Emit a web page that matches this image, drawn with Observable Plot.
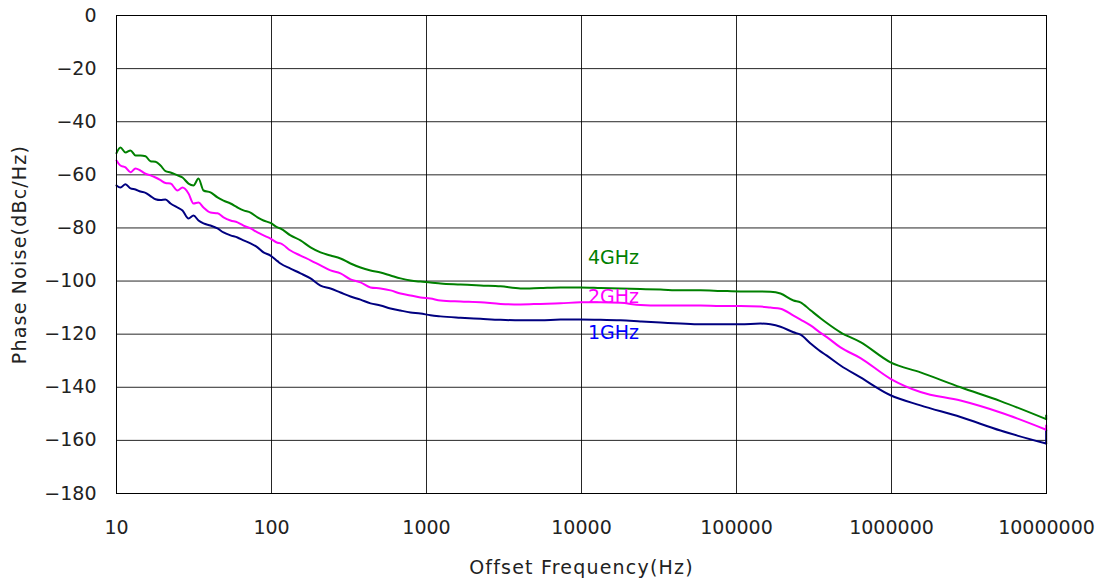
<!DOCTYPE html>
<html><head><meta charset="utf-8">
<script src="https://cdn.jsdelivr.net/npm/d3@7"></script>
<script src="https://cdn.jsdelivr.net/npm/@observablehq/plot@0.6"></script>
<style>
body{margin:0;background:#fff} svg{display:block}
g[aria-label="x-axis label"] text, g[aria-label="y-axis label"] text{letter-spacing:1.2px}
</style>
</head><body><div id="chart"></div>
<script>
const xTicks = [10, 100, 1000, 10000, 100000, 1000000, 10000000];
const yTicks = [0, -20, -40, -60, -80, -100, -120, -140, -160, -180];
const seriesNames = ["1GHz", "2GHz", "4GHz"];
const lineColors = ["#000080", "#ff00ff", "#008000"];
const labelColors = ["#0000ff", "#ff00ff", "#008000"];
const labelFreq = [11000, 11000, 11000];
const labelDb = [-119.7, -105.8, -91.1];

const freqHz = [10, 10.6, 11.43, 12.31, 13.26, 14.28, 15.39, 16.57, 17.85, 19.23,
  20.71, 22.31, 24.75, 26.66, 29.14, 31.39, 33.81, 36.42, 40.42, 44.84,
  49.02, 54.39, 60.34, 65.99, 73.21, 81.21, 88.8, 98.5, 109.3, 114.3,
  132.6, 153.8, 178.5, 207.1, 240.3, 278.7, 323.4, 375.2, 435.3, 505,
  585.9, 679.8, 788.7, 915, 1061, 1231, 1657, 2231, 3002, 4042,
  5439, 7321, 9853, 13264, 17852, 24030, 32340, 43530, 58590, 78870,
  106100, 142800, 165700, 192300, 233200, 258900, 300300, 348400, 380800, 468800,
  631000, 985300, 1538000, 2788000, 5049000, 9950000, 9950000];

const noise4GHz = [-51.8, -49.7, -51.6, -50.8, -52.7, -52.7, -53.0, -54.9, -55.1, -56.5,
  -58.6, -59.1, -60.2, -61.0, -63.3, -64.0, -61.4, -65.9, -66.6, -68.5,
  -69.7, -70.8, -72.3, -73.4, -74.2, -76.0, -77.2, -78.1, -79.8, -80.2,
  -82.8, -84.7, -87.3, -89.2, -90.4, -91.5, -93.4, -94.9, -96.0, -96.8,
  -97.9, -99.0, -99.8, -100.2, -100.5, -100.9, -101.3, -101.7, -102.0, -102.8,
  -102.6, -102.4, -102.4, -102.6, -102.8, -103.0, -103.2, -103.5, -103.5, -103.7,
  -103.9, -103.9, -104.0, -104.7, -107.3, -108.0, -111.0, -114.0, -115.7, -119.3,
  -123.0, -130.6, -134.4, -140.0, -145.2, -152.0, -150.6];

const noise2GHz = [-54.6, -56.5, -57.2, -59.0, -57.6, -58.4, -59.6, -60.2, -61.0, -62.0,
  -63.1, -63.3, -65.9, -64.8, -67.0, -70.8, -70.4, -72.3, -74.2, -74.5,
  -76.0, -77.2, -77.9, -79.1, -80.2, -81.7, -82.8, -84.0, -85.6, -85.8,
  -88.5, -90.4, -92.2, -94.1, -96.0, -97.1, -99.4, -100.5, -102.4, -102.8,
  -103.5, -104.7, -105.4, -106.2, -106.6, -107.3, -107.7, -108.0, -108.6, -108.8,
  -108.6, -108.4, -108.0, -108.0, -108.2, -109.0, -109.2, -109.2, -109.2, -109.4,
  -109.4, -109.6, -110.0, -110.4, -113.0, -114.5, -116.7, -119.5, -121.0, -125.0,
  -129.0, -136.8, -141.8, -145.0, -149.5, -156.0, -154.4];

const noise1GHz = [-64.0, -64.8, -63.5, -65.1, -65.5, -66.3, -66.8, -68.0, -69.2, -69.5,
  -69.3, -70.8, -72.3, -73.4, -76.4, -75.3, -77.2, -78.3, -79.1, -80.2,
  -81.7, -82.8, -83.6, -84.7, -85.8, -87.3, -89.2, -90.4, -92.5, -93.4,
  -95.3, -97.1, -99.0, -101.7, -102.8, -104.3, -105.8, -107.0, -108.4, -109.2,
  -110.3, -111.1, -111.8, -112.2, -112.9, -113.3, -113.8, -114.2, -114.6, -114.8,
  -114.8, -114.5, -114.5, -114.6, -114.8, -115.2, -115.6, -116.0, -116.3, -116.3,
  -116.3, -116.0, -116.3, -117.2, -119.3, -120.2, -123.5, -126.5, -128.0, -131.8,
  -136.3, -143.0, -146.8, -151.2, -156.3, -161.2, -156.2];

const seriesValues = [noise1GHz, noise2GHz, noise4GHz];
const n = freqHz.length;
const mainIdx = d3.range(0, n - 1);
const endIdx = [n - 2, n - 1];

const lineMarks = seriesNames.flatMap((name, i) => [
  Plot.line(mainIdx, {x: j => freqHz[j], y: j => seriesValues[i][j], stroke: lineColors[i],
    strokeWidth: 2, curve: "monotone-x"}),
  Plot.line(endIdx, {x: j => freqHz[j], y: j => seriesValues[i][j], stroke: lineColors[i],
    strokeWidth: 2})
]);
const textMarks = seriesNames.map((name, i) =>
  Plot.text([name], {x: () => labelFreq[i], y: () => labelDb[i], text: d => d, fill: labelColors[i],
    textAnchor: "start", fontSize: 19})
);

const chart = Plot.plot({
  width: 1104, height: 584,
  marginLeft: 116, marginRight: 58, marginTop: 15, marginBottom: 91,
  style: {fontFamily: "DejaVu Sans", fontSize: "19px", color: "#222", background: "#fff"},
  x: {type: "log", domain: [10, 1e7], ticks: xTicks, tickFormat: d => String(d), tickSize: 0, tickPadding: 27,
      label: "Offset Frequency(Hz)", labelAnchor: "center", labelArrow: "none", labelOffset: 80},
  y: {domain: [-180, 0], ticks: yTicks, tickSize: 0, tickPadding: 20,
      label: "Phase Noise(dBc/Hz)", labelAnchor: "center", labelArrow: "none", labelOffset: 104},
  marks: [
    Plot.gridX(xTicks, {stroke: "#000", strokeOpacity: 0.85}),
    Plot.gridY(yTicks, {stroke: "#000", strokeOpacity: 0.85}),
    ...lineMarks,
    ...textMarks,
    Plot.frame({stroke: "#000"})
  ]
});
document.getElementById("chart").appendChild(chart);
</script>
</body></html>
